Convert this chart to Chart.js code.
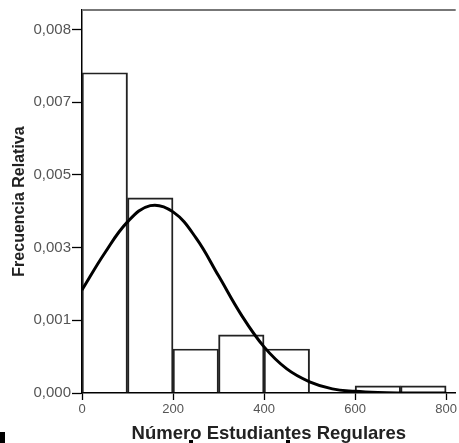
<!DOCTYPE html>
<html>
<head>
<meta charset="utf-8">
<script src="https://cdn.jsdelivr.net/npm/chart.js@4.4.1/dist/chart.umd.min.js"></script>
<style>
html, body { margin: 0; padding: 0; background: #fff; }
#wrap { position: relative; width: 459px; height: 443px; }
.mark { position: absolute; background: #000; }
</style>
</head>
<body>
<div id="wrap">
<canvas id="histChart" width="459" height="443"></canvas>
<div class="mark" style="left:0;top:432px;width:5px;height:11px"></div>
<div class="mark" style="left:189px;top:440px;width:4px;height:3px"></div>
<div class="mark" style="left:286px;top:440px;width:4px;height:3px"></div>
</div>
<script>
// histogram bins (centre of each 100-wide bin) and their relative frequency
const binCenters = [50, 150, 250, 350, 450, 550, 650, 750];
const binFreq = [0.00771, 0.00470, 0.00106, 0.00140, 0.00106, 0, 0.00017, 0.00017];

// normal curve
const curveX = [0, 50, 100, 150, 200, 250, 300, 350, 400, 450, 500, 550, 600, 650, 700, 750, 800];
const curveY = [0.00248, 0.00337, 0.00412, 0.00451, 0.00436, 0.00374, 0.00282, 0.00188, 0.00111,
                0.00058, 0.00027, 0.00010, 0.00004, 0.00001, 0, 0, 0];

const xTicks = [0, 200, 400, 600, 800];
const yTickValues = [0, 0.00175, 0.0035, 0.00525, 0.007, 0.00875];
const yTickLabels = ['0,000', '0,001', '0,003', '0,005', '0,007', '0,008'];

const fontFamily = "'Liberation Sans', Arial, sans-serif";

const framePlugin = {
    id: 'frame',
    afterDatasetsDraw(chart) {
        const { ctx, chartArea: a } = chart;
        ctx.save();
        ctx.strokeStyle = '#777';
        ctx.lineWidth = 2;
        ctx.beginPath();
        ctx.moveTo(a.left, a.top);
        ctx.lineTo(a.right, a.top);
        ctx.stroke();
        ctx.restore();
    }
};

const ctx = document.getElementById('histChart').getContext('2d');
new Chart(ctx, {
    type: 'bar',
    data: {
        datasets: [{
            type: 'line',
            data: curveX.map((x, i) => ({ x: x, y: curveY[i] })),
            borderColor: '#000',
            borderWidth: 3,
            pointRadius: 0,
            tension: 0.4,
            fill: false,
            order: 0
        }, {
            type: 'bar',
            data: binCenters.map((x, i) => ({ x: x, y: binFreq[i] })),
            backgroundColor: 'rgba(255,255,255,0)',
            borderColor: '#222',
            borderWidth: 1.3,
            barPercentage: 1,
            categoryPercentage: 1,
            order: 1
        }]
    },
    options: {
        responsive: false,
        animation: false,
        layout: { padding: { top: 10, right: 1, left: 0, bottom: 0 } },
        plugins: {
            legend: { display: false },
            tooltip: { enabled: false }
        },
        scales: {
            x: {
                type: 'linear',
                offset: false,
                min: 0,
                max: 821,
                afterBuildTicks: s => { s.ticks = xTicks.map(v => ({ value: v })); },
                afterFit: s => { s.height = 50; },
                grid: { offset: false, drawOnChartArea: false, color: '#000', tickLength: 7, tickWidth: 1.3 },
                border: { color: '#000', width: 1.5 },
                ticks: {
                    color: '#555',
                    padding: 2,
                    maxRotation: 0,
                    font: { family: fontFamily, size: 13 }
                },
                title: {
                    display: true,
                    text: 'Número Estudiantes Regulares',
                    color: '#222',
                    padding: { top: 0, bottom: 0 },
                    font: { family: fontFamily, size: 18.5, weight: 'bold', lineHeight: 1 }
                }
            },
            y: {
                min: 0,
                max: 0.00922,
                afterBuildTicks: s => { s.ticks = yTickValues.map(v => ({ value: v })); },
                afterFit: s => { s.width = 82; },
                grid: { drawOnChartArea: false, color: '#000', tickLength: 10, tickWidth: 1.3 },
                border: { color: '#000', width: 1.5 },
                ticks: {
                    color: '#555',
                    padding: 1,
                    font: { family: fontFamily, size: 15 },
                    callback: (v) => yTickLabels[yTickValues.indexOf(v)]
                },
                title: {
                    display: true,
                    text: 'Frecuencia Relativa',
                    color: '#222',
                    padding: { top: 12, bottom: 0 },
                    font: { family: fontFamily, size: 16, weight: 'bold', lineHeight: 1 }
                }
            }
        }
    },
    plugins: [framePlugin]
});
</script>
</body>
</html>
